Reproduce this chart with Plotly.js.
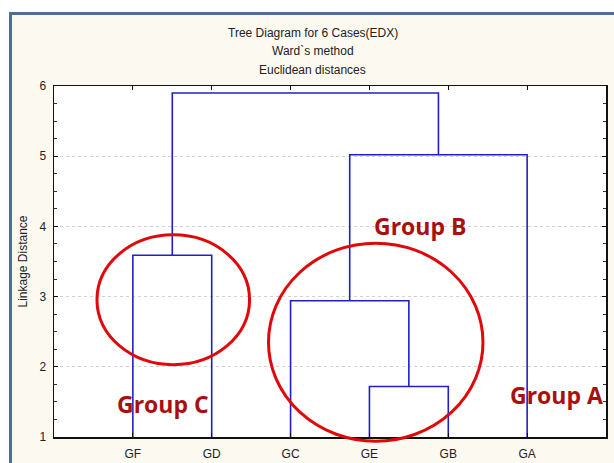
<!DOCTYPE html>
<html>
<head>
<meta charset="utf-8">
<script src="https://cdn.plot.ly/plotly-3.0.1.min.js"></script>
<style>
  html, body { margin:0; padding:0; background:#ffffff; width:614px; height:463px; overflow:hidden; }
  #frame { position:absolute; left:9px; top:12px; width:700px; height:600px;
           background:#fcf9f0; border-left:3px solid #4f6d98; border-top:3px solid #4f6d98; }
  #chart { position:absolute; left:0; top:0; width:614px; height:463px; }
</style>
</head>
<body>
<div id="frame"></div>
<div id="chart"></div>
<script>
// ---- data ----
const leafLabels = ['GF', 'GD', 'GC', 'GE', 'GB', 'GA'];
// merge steps (node ids: 0..5 leaves, 6+ clusters created in order)
const mergeLeft   = [3, 2, 0, 7, 8];
const mergeRight  = [4, 6, 1, 5, 9];
const mergeHeight = [1.72, 2.94, 3.59, 5.02, 5.90];
const titleLines = ['Tree Diagram for 6 Cases(EDX)', 'Ward`s method', 'Euclidean distances'];
const yTitle = 'Linkage Distance';
const groupNames = ['Group C', 'Group B', 'Group A'];

// ---- build dendrogram segments ----
const base = 1;
const pos = leafLabels.map((_, i) => i);
const hgt = leafLabels.map(() => base);
const xs = [], ys = [];
mergeLeft.forEach((l, k) => {
  const r = mergeRight[k], h = mergeHeight[k];
  xs.push(pos[l], pos[l], pos[r], pos[r], null);
  ys.push(hgt[l], h, h, hgt[r], null);
  pos.push((pos[l] + pos[r]) / 2);
  hgt.push(h);
});

const xRange = [-1, leafLabels.length];
const yRange = [1, 6];
const px = x => (x - xRange[0]) / (xRange[1] - xRange[0]);
const py = y => (y - yRange[0]) / (yRange[1] - yRange[0]);

const trace = {
  x: xs, y: ys, type: 'scatter', mode: 'lines',
  line: { color: '#2020c8', width: 1.6 },
  hoverinfo: 'skip', showlegend: false, connectgaps: false
};

function ellipse(x0, x1, y0, y1) {
  return { type: 'circle', xref: 'paper', yref: 'paper',
           x0: px(x0), x1: px(x1), y0: py(y0), y1: py(y1),
           line: { color: '#e00808', width: 3 }, layer: 'above' };
}

const tfont = { family: 'Liberation Sans, Arial, sans-serif', size: 12, color: '#222' };
const gfont = { family: 'Open Sans, sans-serif', size: 23, color: '#a90f0f', weight: 'bold' };

const annotations = [
  ...titleLines.map((t, i) => ({
    text: t, xref: 'paper', yref: 'paper', x: 0.469, y: [1.151, 1.1, 1.046][i],
    xanchor: 'center', yanchor: 'middle', showarrow: false, font: tfont
  })),
  { text: '<b>' + groupNames[0] + '</b>', xref: 'x', yref: 'y', x: 0.38, y: 1.47,
    showarrow: false, xanchor: 'center', yanchor: 'middle', font: gfont },
  { text: '<b>' + groupNames[1] + '</b>', xref: 'x', yref: 'y', x: 3.64, y: 4.0,
    showarrow: false, xanchor: 'center', yanchor: 'middle', font: gfont },
  { text: '<b>' + groupNames[2] + '</b>', xref: 'x', yref: 'y', x: 5.37, y: 1.6,
    showarrow: false, xanchor: 'center', yanchor: 'middle', font: gfont }
];

const layout = {
  width: 614, height: 463,
  margin: { l: 54, r: 8, t: 86, b: 26, pad: 0 },
  paper_bgcolor: 'rgba(0,0,0,0)',
  plot_bgcolor: '#ffffff',
  showlegend: false,
  xaxis: {
    range: xRange, tickmode: 'array', tickvals: leafLabels.map((_, i) => i), ticktext: leafLabels,
    showgrid: false, zeroline: false, showline: true, linecolor: '#111', linewidth: 1.5,
    mirror: 'ticks', ticks: 'inside', ticklen: 4, tickcolor: '#111', tickwidth: 1,
    tickfont: tfont, ticklabelstandoff: 5
  },
  yaxis: {
    range: yRange, dtick: 1, tick0: 0,
    showgrid: true, gridcolor: '#d2d2d2', griddash: 'dot', gridwidth: 1, zeroline: false,
    showline: true, linecolor: '#111', linewidth: 1.5, mirror: 'ticks',
    ticks: 'inside', ticklen: 4, tickcolor: '#111', tickwidth: 1,
    minor: { dtick: 0.25, ticks: 'inside', ticklen: 3, tickcolor: '#333', showgrid: false },
    tickfont: tfont, ticklabelstandoff: 4,
    title: { text: yTitle, font: tfont, standoff: 9 }
  },
  annotations: annotations,
  shapes: [
    ellipse(-0.455, 1.48, 2.03, 3.88),
    ellipse(1.72, 4.44, 0.94, 3.76)
  ]
};

Plotly.newPlot('chart', [trace], layout, { displayModeBar: false, staticPlot: true });
</script>
</body>
</html>
